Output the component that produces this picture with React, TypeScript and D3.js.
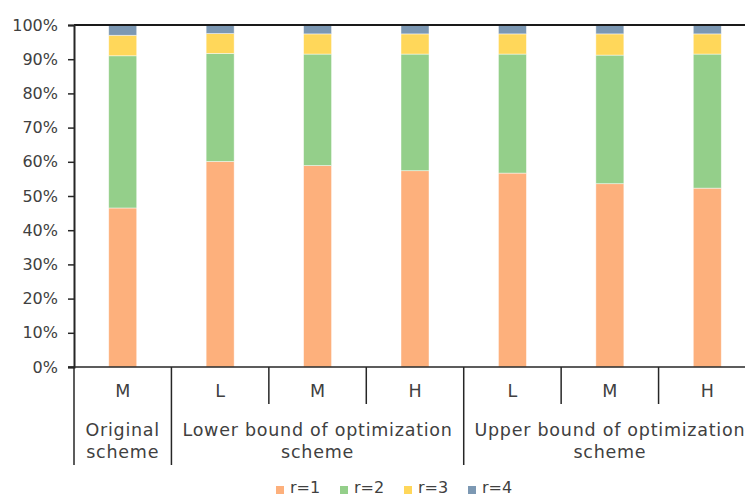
import React, { useEffect, useRef } from "react";
import * as d3 from "d3";

// Sub-scenario labels and their parent schemes
const subLabels = ["M", "L", "M", "H", "L", "M", "H"];
const groups = [
  { name: ["Original", "scheme"], span: 1 },
  { name: ["Lower bound of optimization", "scheme"], span: 3 },
  { name: ["Upper bound of optimization", "scheme"], span: 3 },
];

// Share of each r value (percent) per scenario
const r1 = [46.5, 60.1, 58.9, 57.4, 56.7, 53.6, 52.3];
const r2 = [44.5, 31.6, 32.6, 34.1, 34.8, 37.6, 39.2];
const r3 = [6.0, 5.8, 5.9, 5.9, 5.9, 6.2, 5.9];
const r4 = [3.0, 2.5, 2.6, 2.6, 2.6, 2.6, 2.6];

const seriesNames = ["r=1", "r=2", "r=3", "r=4"];
const seriesColors = ["#FDB07C", "#94CF8A", "#FFD75A", "#7C98B3"];
const yTicks = [0, 10, 20, 30, 40, 50, 60, 70, 80, 90, 100];

const W = 745;
const H = 497;
const FONT = "'DejaVu Sans', 'Noto Sans', sans-serif";
const TEXT = "#404040";

export default function App() {
  const ref = useRef<SVGSVGElement>(null);

  useEffect(() => {
    const svg = d3.select(ref.current);
    svg.selectAll("*").remove();

    const left = 74;
    const right = 756;
    const top = 25;
    const bottom = 367;

    const x = d3
      .scaleBand<number>()
      .domain(d3.range(subLabels.length))
      .range([left, right])
      .paddingInner(0)
      .paddingOuter(0);
    const y = d3.scaleLinear().domain([0, 100]).range([bottom, top]);
    const barW = 28;

    const rows = subLabels.map((_, i) => ({
      i,
      r1: r1[i],
      r2: r2[i],
      r3: r3[i],
      r4: r4[i],
    }));
    const stack = d3.stack<any>().keys(["r1", "r2", "r3", "r4"]);
    const layers = stack(rows);

    const g = svg.append("g");

    layers.forEach((layer, k) => {
      g.append("g")
        .selectAll("rect")
        .data(layer)
        .join("rect")
        .attr("x", (d: any) => x(d.data.i)! + x.bandwidth() / 2 - barW / 2)
        .attr("width", barW)
        .attr("y", (d: any) => y(d[1]))
        .attr("height", (d: any) => y(d[0]) - y(d[1]))
        .attr("fill", seriesColors[k])
        .attr("stroke", "#ffffff")
        .attr("stroke-opacity", 0.6)
        .attr("stroke-width", 0.75);
    });

    const lineColor = "#262626";

    // Top border at 100%
    g.append("line")
      .attr("x1", left)
      .attr("x2", W)
      .attr("y1", y(100))
      .attr("y2", y(100))
      .attr("stroke", "#1a1a1a")
      .attr("stroke-width", 2);

    // Y axis
    const yAxis = d3
      .axisLeft(y)
      .tickValues(yTicks)
      .tickSize(6)
      .tickPadding(10)
      .tickFormat((d) => `${d}%`);
    const ya = g.append("g").attr("transform", `translate(${left},0)`).call(yAxis);
    ya.select(".domain").attr("stroke", lineColor).attr("stroke-width", 2);
    ya.selectAll(".tick line").attr("stroke", lineColor).attr("stroke-width", 1.5);
    ya.selectAll(".tick text")
      .attr("fill", TEXT)
      .style("font-family", FONT)
      .style("font-size", "16px");

    // X baseline
    g.append("line")
      .attr("x1", left - 6)
      .attr("x2", W)
      .attr("y1", bottom)
      .attr("y2", bottom)
      .attr("stroke", lineColor)
      .attr("stroke-width", 1.5);

    // Category separators: short between sub-scenarios, long between schemes
    const groupStarts = new Set<number>();
    let acc = 0;
    groups.forEach((gr) => {
      groupStarts.add(acc);
      acc += gr.span;
    });
    groupStarts.add(acc);
    for (let i = 0; i <= subLabels.length; i++) {
      const xx = i < subLabels.length ? x(i)! : right;
      const long = groupStarts.has(i);
      g.append("line")
        .attr("x1", xx)
        .attr("x2", xx)
        .attr("y1", bottom)
        .attr("y2", long ? 465 : 404)
        .attr("stroke", lineColor)
        .attr("stroke-width", 1.5);
    }

    // Sub-scenario labels
    g.selectAll("text.sub")
      .data(subLabels)
      .join("text")
      .attr("class", "sub")
      .attr("x", (_, i) => x(i)! + x.bandwidth() / 2)
      .attr("y", 397)
      .attr("text-anchor", "middle")
      .attr("fill", TEXT)
      .style("font-family", FONT)
      .style("font-size", "17.5px")
      .text((d) => d);

    // Scheme labels
    acc = 0;
    groups.forEach((gr) => {
      const x0 = x(acc)!;
      const x1 = acc + gr.span < subLabels.length ? x(acc + gr.span)! : right;
      const cx = (x0 + x1) / 2;
      gr.name.forEach((line, li) => {
        g.append("text")
          .attr("x", cx)
          .attr("y", 436 + li * 22)
          .attr("text-anchor", "middle")
          .attr("fill", TEXT)
          .style("font-family", FONT)
          .style("font-size", "17.5px")
          .style("letter-spacing", "0.75px")
          .text(line);
      });
      acc += gr.span;
    });

    // Legend
    const legendX = [276, 340, 404, 468];
    seriesNames.forEach((name, k) => {
      const lg = g.append("g").attr("transform", `translate(${legendX[k]},0)`);
      lg.append("rect")
        .attr("x", 0)
        .attr("y", 486)
        .attr("width", 8)
        .attr("height", 8)
        .attr("fill", seriesColors[k]);
      lg.append("text")
        .attr("x", 14)
        .attr("y", 493)
        .attr("fill", TEXT)
        .style("font-family", FONT)
        .style("font-size", "16px")
        .text(name);
    });
  }, []);

  return (
    <div style={{ position: "absolute", left: 0, top: 0 }}>
      <svg ref={ref} width={W} height={H} style={{ display: "block", background: "#fff" }} />
    </div>
  );
}
